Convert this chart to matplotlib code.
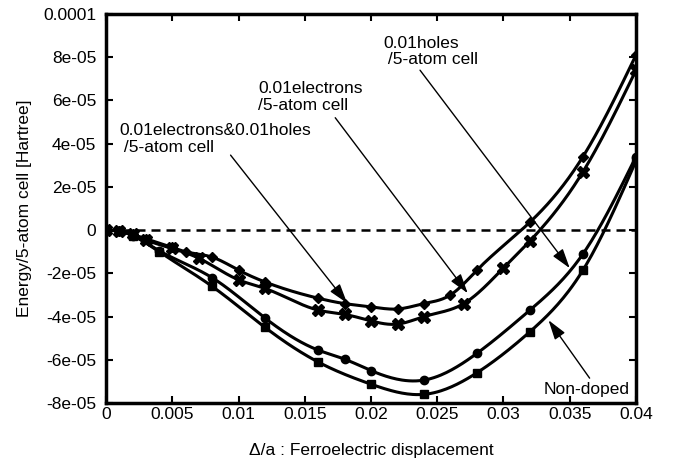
import numpy as np
import matplotlib
matplotlib.use('Agg')
import matplotlib.pyplot as plt

plt.rcParams['font.family'] = ['Liberation Sans', 'DejaVu Sans']

# energies, in units of 1e-5 Hartree
x_eh = [0, 0.001, 0.002, 0.003, 0.005, 0.006, 0.008, 0.010, 0.012, 0.016,
        0.018, 0.020, 0.022, 0.024, 0.026, 0.028, 0.032, 0.036, 0.040]
y_eh = [0, -0.05, -0.2, -0.4, -0.8, -1.0, -1.25, -1.85, -2.4, -3.15,
        -3.4, -3.55, -3.65, -3.4, -3.0, -1.85, 0.37, 3.4, 8.1]

x_el = [0, 0.001, 0.002, 0.003, 0.005, 0.007, 0.010, 0.012, 0.016, 0.018,
        0.020, 0.022, 0.024, 0.027, 0.030, 0.032, 0.036, 0.040]
y_el = [0, -0.05, -0.2, -0.45, -0.85, -1.3, -2.3, -2.7, -3.7, -3.9,
        -4.2, -4.35, -4.0, -3.4, -1.75, -0.5, 2.7, 7.4]

x_ho = [0, 0.001, 0.002, 0.004, 0.008, 0.012, 0.016, 0.018, 0.020, 0.024,
        0.028, 0.032, 0.036, 0.040]
y_ho = [0, -0.05, -0.25, -0.95, -2.2, -4.07, -5.55, -5.97, -6.5, -6.94,
        -5.7, -3.7, -1.1, 3.4]

x_nd = [0, 0.001, 0.002, 0.004, 0.008, 0.012, 0.016, 0.020, 0.024, 0.028,
        0.032, 0.036, 0.040]
y_nd = [0, -0.05, -0.25, -1.0, -2.6, -4.5, -6.1, -7.13, -7.6, -6.6,
        -4.7, -1.85, 3.2]

xticks = [0, 0.005, 0.01, 0.015, 0.02, 0.025, 0.03, 0.035, 0.04]
xticklabels = ['0', '0.005', '0.01', '0.015', '0.02', '0.025', '0.03', '0.035', '0.04']
yticks = [10, 8, 6, 4, 2, 0, -2, -4, -6, -8]
yticklabels = ['0.0001', '8e-05', '6e-05', '4e-05', '2e-05', '0',
               '-2e-05', '-4e-05', '-6e-05', '-8e-05']


def smooth(x, y, n=300):
    # natural cubic spline, only used to draw the line between the points
    x = np.asarray(x, float)
    y = np.asarray(y, float)
    m = len(x)
    h = np.diff(x)
    A = np.zeros((m, m))
    r = np.zeros(m)
    A[0, 0] = A[-1, -1] = 1
    for i in range(1, m - 1):
        A[i, i - 1] = h[i - 1]
        A[i, i] = 2 * (h[i - 1] + h[i])
        A[i, i + 1] = h[i]
        r[i] = 6 * ((y[i + 1] - y[i]) / h[i] - (y[i] - y[i - 1]) / h[i - 1])
    M = np.linalg.solve(A, r)
    xs = np.linspace(x[0], x[-1], n)
    k = np.clip(np.searchsorted(x, xs) - 1, 0, m - 2)
    t0 = x[k + 1] - xs
    t1 = xs - x[k]
    hk = h[k]
    ys = (M[k] * t0**3 / (6 * hk) + M[k + 1] * t1**3 / (6 * hk)
          + (y[k] / hk - M[k] * hk / 6) * t0 + (y[k + 1] / hk - M[k + 1] * hk / 6) * t1)
    return xs, ys


fig = plt.figure(figsize=(6.74, 4.68), dpi=100)
ax = fig.add_axes([0.1573, 0.1389, 0.7863, 0.8312])

ax.axhline(0, color='black', lw=1.8, dashes=(3.6, 2.4), zorder=1)

for xs, ys, mk, ms in [(x_eh, y_eh, 'D', 5), (x_el, y_el, 'X', 8),
                       (x_ho, y_ho, 'o', 6), (x_nd, y_nd, 's', 6)]:
    sx, sy = smooth(xs, ys)
    ax.plot(sx, sy, color='black', lw=2.2, zorder=2)
    ax.plot(xs, ys, ls='none', marker=mk, ms=ms, color='black', zorder=3)

ax.set_xlim(0, 0.04)
ax.set_ylim(-8, 10)
ax.set_xticks(xticks)
ax.set_xticklabels(xticklabels)
ax.set_yticks(yticks)
ax.set_yticklabels(yticklabels)
ax.tick_params(direction='in', length=5, width=1.5, top=True, right=True,
               labelsize=12.5)
ax.tick_params(axis='x', pad=3)
ax.tick_params(axis='y', pad=7)
for s in ax.spines.values():
    s.set_linewidth(2.5)

ax.set_xlabel('Δ/a : Ferroelectric displacement', fontsize=12.5, labelpad=15)
ax.set_ylabel('Energy/5-atom cell [Hartree]', fontsize=12.5, labelpad=8)

arrow = dict(arrowstyle='-|>,head_length=0.8,head_width=0.25', lw=1,
             color='black', mutation_scale=15, shrinkA=0, shrinkB=0)
ax.annotate('', xy=(0.0350, -1.76), xytext=(0.0237, 7.4), arrowprops=arrow)
ax.annotate('', xy=(0.0273, -2.92), xytext=(0.0173, 5.2), arrowprops=arrow)
ax.annotate('', xy=(0.0182, -3.38), xytext=(0.0094, 3.47), arrowprops=arrow)
ax.annotate('', xy=(0.0334, -4.17), xytext=(0.0365, -6.85), arrowprops=arrow)

ax.text(0.0209, 9.0, '0.01holes\n /5-atom cell', fontsize=12.5, linespacing=1.15, va='top')
ax.text(0.0115, 6.9, '0.01electrons\n/5-atom cell', fontsize=12.5, linespacing=1.15, va='top')
ax.text(0.0010, 4.95, '0.01electrons&0.01holes\n /5-atom cell', fontsize=12.5,
        linespacing=1.15, va='top')
ax.text(0.0330, -7.05, 'Non-doped', fontsize=12.5, va='top')

fig.savefig('out.png', dpi=100)
